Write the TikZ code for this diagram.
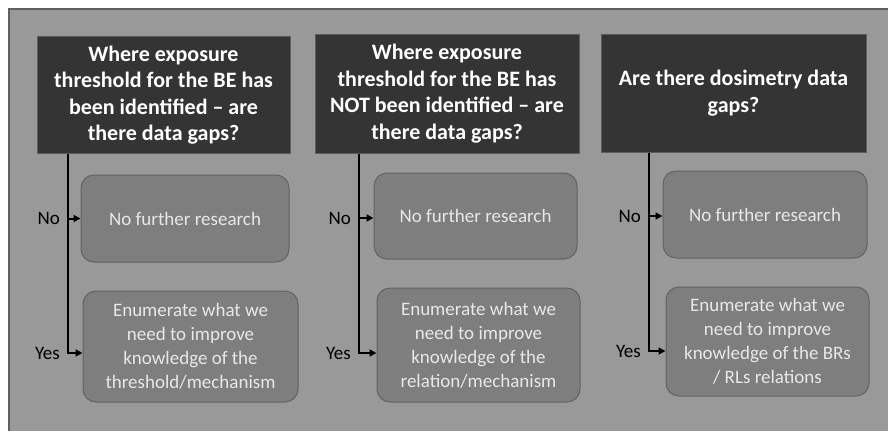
\documentclass[tikz,border=0pt]{standalone}
\usepackage{fontspec}
\setmainfont{Carlito}
\usetikzlibrary{positioning, arrows.meta}

\definecolor{bggrey}{RGB}{153,153,153}
\definecolor{bgline}{RGB}{95,95,95}
\definecolor{headfill}{RGB}{52,52,52}
\definecolor{headline}{RGB}{92,92,92}
\definecolor{boxfill}{RGB}{126,126,126}
\definecolor{boxline}{RGB}{98,98,98}
\definecolor{boxtext}{RGB}{232,232,232}

\begin{document}
\begin{tikzpicture}[x=1pt, y=-1pt]

            % Styles for the question boxes, answer boxes and arrows
            \tikzstyle{question} = [rectangle, draw=headline, fill=headfill, line width=1pt,
                                    align=center, inner sep=0pt, text=white,
                                    font=\fontsize{22}{26.5}\selectfont\bfseries]
            \tikzstyle{answer} = [rectangle, draw=boxline, fill=boxfill, line width=1pt,
                                  rounded corners=13pt, align=center, inner sep=0pt,
                                  text=boxtext, font=\fontsize{19}{24}\selectfont]
            \tikzstyle{choice} = [anchor=east, inner sep=0pt, font=\fontsize{19}{24}\selectfont]
            \tikzstyle{flow} = [line width=2pt, -{Triangle[length=7pt, width=7pt]}]

            % Frame
            \useasboundingbox (0,0) rectangle (888,431);
            \fill[white] (0,0) rectangle (888,431);
            \fill[bggrey] (9,9) rectangle (888,431);
            \draw[bgline, line width=1.5pt] (9,431) -- (9,9) -- (888,9);

            % First column
            \node[question, minimum width=253pt, minimum height=117pt] (q1) at (163.5,95)
                {Where exposure \\ threshold for the BE has \\ been identified -- are \\ there data gaps?};
            \node[answer, minimum width=208pt, minimum height=87pt] (no1) at (185,218.5)
                {No further research};
            \node[answer, minimum width=215pt, minimum height=111pt] (yes1) at (190.5,346.5)
                {Enumerate what we \\ need to improve \\ knowledge of the \\ threshold/mechanism};
            \coordinate (l1) at (68,0);

            % Second column
            \node[question, minimum width=264pt, minimum height=119pt] (q2) at (447,93.5)
                {Where exposure \\ threshold for the BE has \\ NOT been identified -- are \\ there data gaps?};
            \node[answer, minimum width=203pt, minimum height=86pt] (no2) at (475.5,216)
                {No further research};
            \node[answer, minimum width=203pt, minimum height=114pt] (yes2) at (478.5,345)
                {Enumerate what we \\ need to improve \\ knowledge of the \\ relation/mechanism};
            \coordinate (l2) at (359,0);

            % Third column
            \node[question, minimum width=265pt, minimum height=118pt] (q3) at (733.5,93)
                {Are there dosimetry data \\ gaps?};
            \node[answer, minimum width=204pt, minimum height=87pt] (no3) at (765,214.5)
                {No further research};
            \node[answer, minimum width=203pt, minimum height=109pt] (yes3) at (767.5,341.5)
                {Enumerate what we \\ need to improve \\ knowledge of the BRs \\ / RLs relations};
            \coordinate (l3) at (649,0);

            % Arrows and labels
            \draw[flow] (q1.south -| l1) |- ([yshift=-6.5pt]yes1.west);
            \draw[flow] (no1.west -| l1) -- (no1.west);
            \draw[flow] (q2.south -| l2) |- ([yshift=-8pt]yes2.west);
            \draw[flow] ([yshift=-2pt]no2.west -| l2) -- ([yshift=-2pt]no2.west);
            \draw[flow] (q3.south -| l3) |- ([yshift=-9.5pt]yes3.west);
            \draw[flow] ([yshift=-1.5pt]no3.west -| l3) -- ([yshift=-1.5pt]no3.west);

            \node[choice] (n1) at ([xshift=-8pt]no1.west -| l1) {No};
            \node[choice] (y1) at ([xshift=-8pt, yshift=-6.5pt]yes1.west -| l1) {Yes};
            \node[choice] (n2) at ([xshift=-8pt, yshift=-2pt]no2.west -| l2) {No};
            \node[choice] (y2) at ([xshift=-8pt, yshift=-8pt]yes2.west -| l2) {Yes};
            \node[choice] (n3) at ([xshift=-8pt, yshift=-1.5pt]no3.west -| l3) {No};
            \node[choice] (y3) at ([xshift=-8pt, yshift=-9.5pt]yes3.west -| l3) {Yes};

\end{tikzpicture}
\end{document}
